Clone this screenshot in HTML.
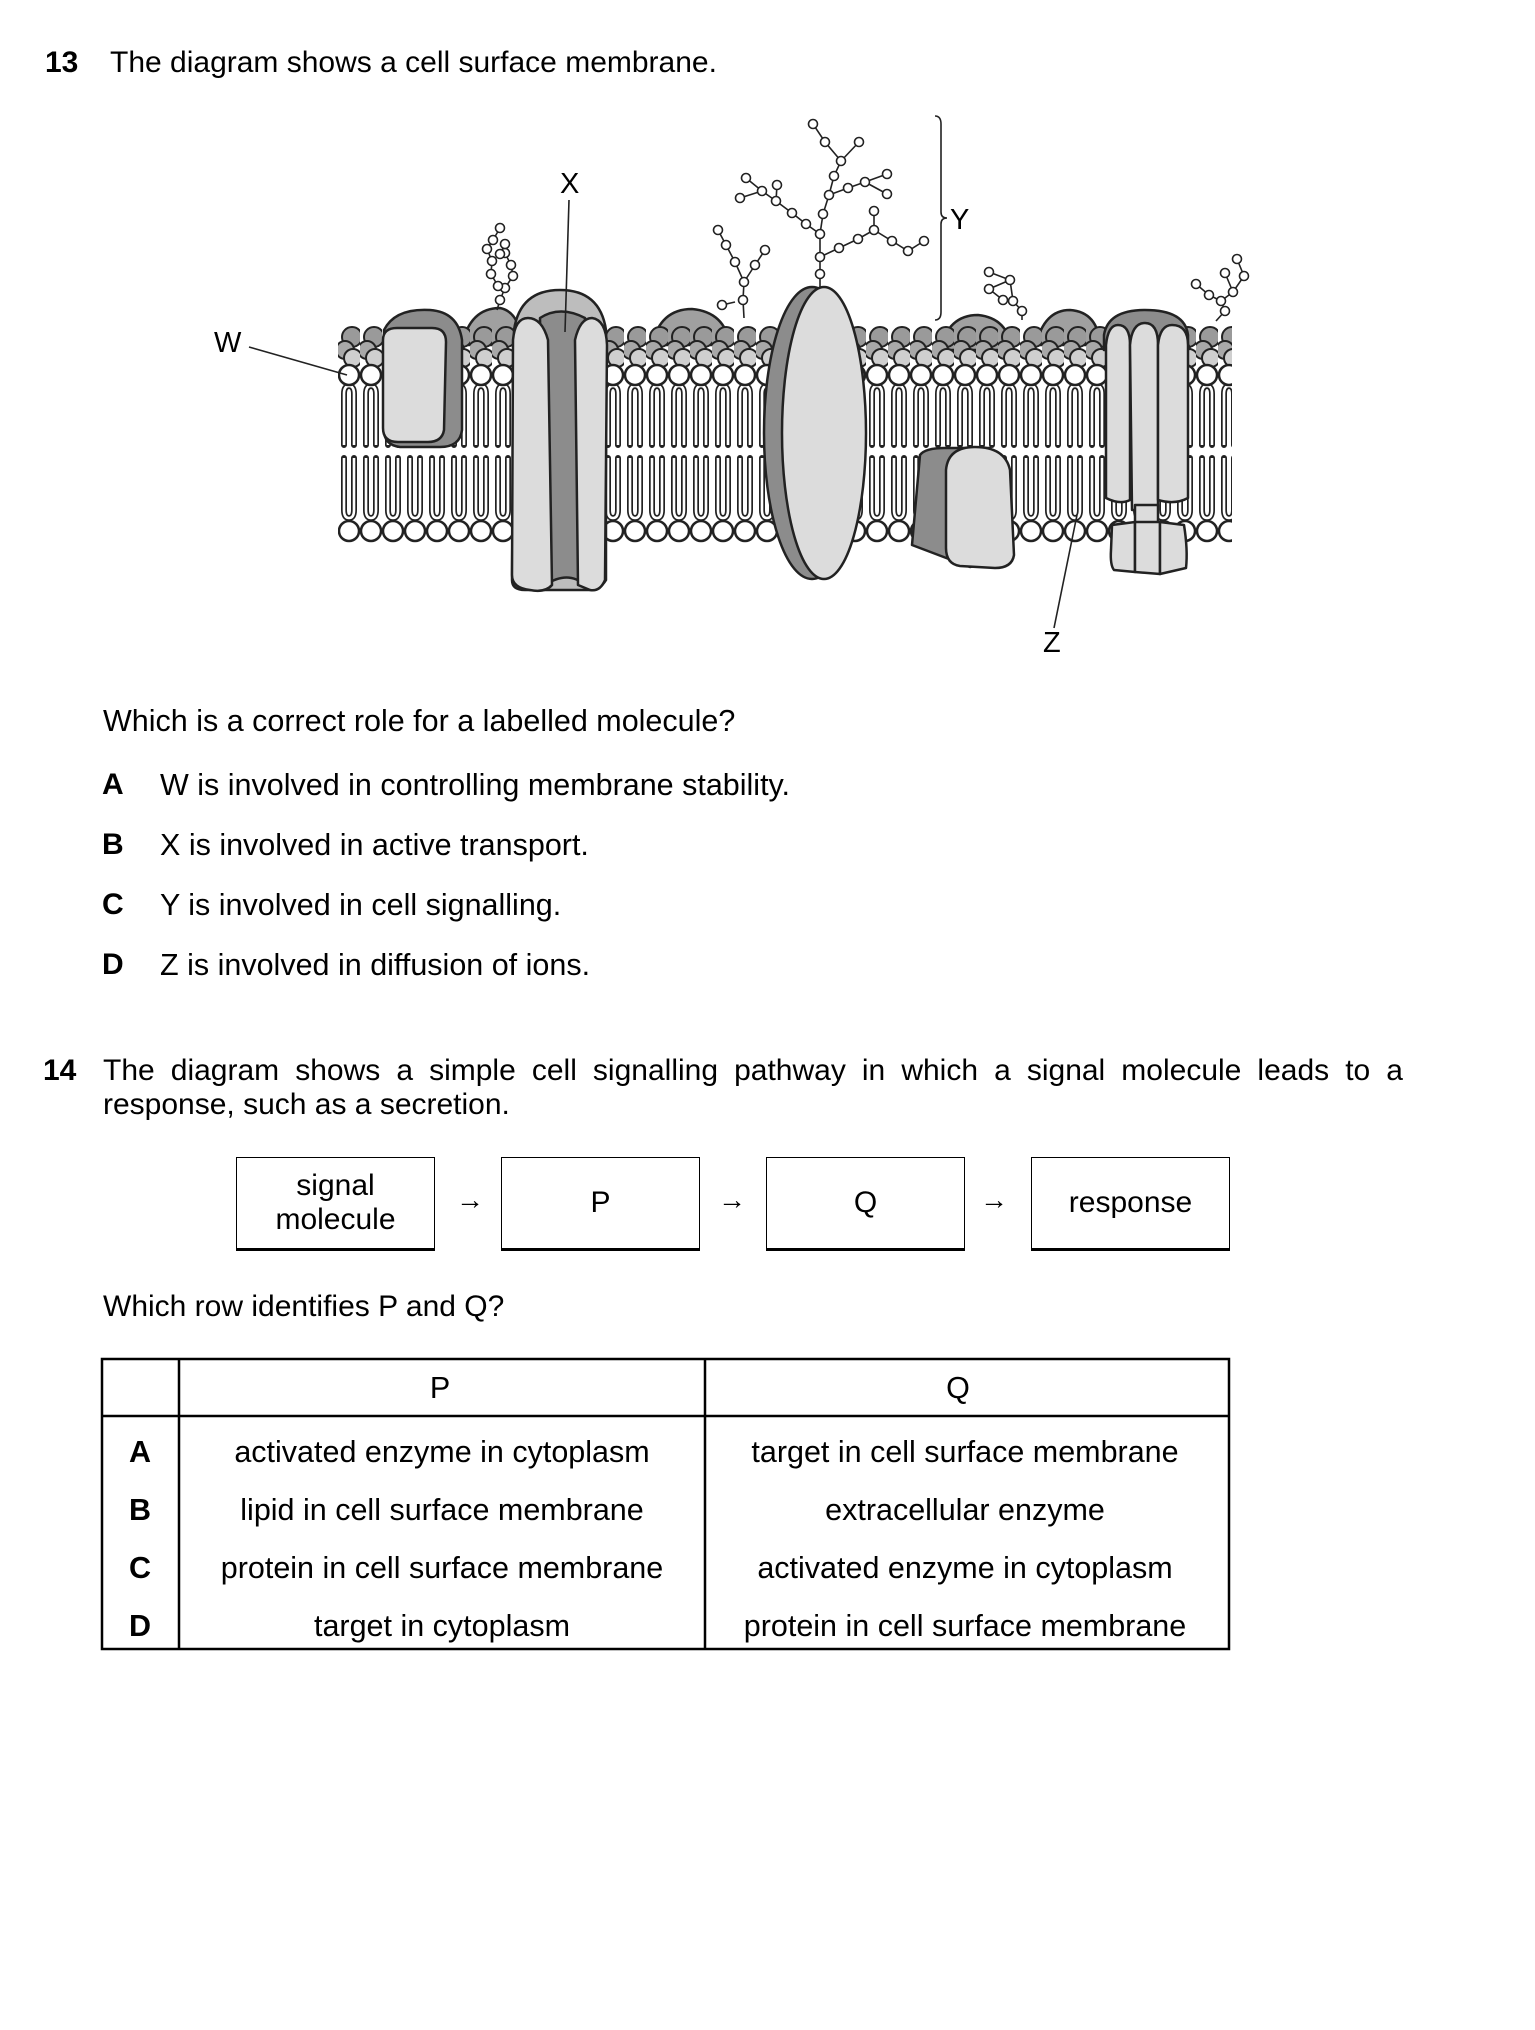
<!DOCTYPE html>
<html><head><meta charset="utf-8"><style>
html,body{margin:0;padding:0;background:#fff;}
body{width:1535px;height:2030px;position:relative;overflow:hidden;font-family:"Liberation Sans",Arial,sans-serif;color:#000;}
.t{position:absolute;font-size:30px;white-space:nowrap;line-height:1;}
.b{font-weight:bold;}
.box{position:absolute;top:1157px;height:94px;width:199px;border:1.5px solid #000;border-bottom-width:3px;box-sizing:border-box;display:flex;align-items:center;justify-content:center;text-align:center;font-size:30px;line-height:34px;}
.arr{position:absolute;top:1184px;font-size:28px;}
</style></head><body>

<div class="t" style="left:45px;top:48px;"><span class="b">13</span></div>
<div class="t" style="left:110px;top:48px;">The diagram shows a cell surface membrane.</div>

<svg style="position:absolute;left:0;top:0" width="1535" height="700" viewBox="0 0 1535 700">
<defs>
<pattern id="lip" patternUnits="userSpaceOnUse" x="338" y="0" width="22" height="700">
  <circle cx="14" cy="337" r="10" fill="#9a9a9a" stroke="#222" stroke-width="2"/>
  <circle cx="7" cy="350" r="9" fill="#a8a8a8" stroke="#222" stroke-width="2"/>
  <circle cx="15" cy="358" r="9" fill="#cfcfcf" stroke="#222" stroke-width="2"/>
  <path d="M6 445 L6 394 Q6 386 11 386 Q16 386 16 394 L16 445" fill="none" stroke="#222" stroke-width="6" stroke-linejoin="round" stroke-linecap="round"/>
  <path d="M6 445 L6 394 Q6 386 11 386 Q16 386 16 394 L16 445" fill="none" stroke="#fff" stroke-width="2.6"/>
  <path d="M6 458 L6 510 Q6 518 11 518 Q16 518 16 510 L16 458" fill="none" stroke="#222" stroke-width="6" stroke-linejoin="round" stroke-linecap="round"/>
  <path d="M6 458 L6 510 Q6 518 11 518 Q16 518 16 510 L16 458" fill="none" stroke="#fff" stroke-width="2.6"/>
  <circle cx="11" cy="375" r="10" fill="#fff" stroke="#222" stroke-width="2.5"/>
  <circle cx="11" cy="531" r="10" fill="#fff" stroke="#222" stroke-width="2.5"/>
</pattern>
</defs>
<g stroke="#222" stroke-width="2.5">
<path d="M462 345 Q470 308 500 308 Q520 312 522 345 Z" fill="#a0a0a0"/>
<path d="M652 345 Q660 309 692 309 Q725 312 730 345 Z" fill="#a0a0a0"/>
<path d="M940 350 Q948 315 978 315 Q1008 318 1012 350 Z" fill="#a0a0a0"/>
<path d="M1036 345 Q1044 310 1070 310 Q1098 312 1100 345 Z" fill="#a0a0a0"/>
</g>
<rect x="338" y="320" width="894" height="230" fill="url(#lip)"/>
<g stroke="#222" stroke-width="2.5" stroke-linejoin="round">
<path d="M384 330 Q395 308 430 310 Q458 312 462 340 L462 430 Q460 447 440 447 L400 447 Q384 445 384 430 Z" fill="#8c8c8c"/>
<path d="M383 340 Q383 328 397 328 L432 328 Q446 328 446 342 L444 430 Q442 442 428 442 L398 442 Q383 442 383 428 Z" fill="#dcdcdc"/>
<path d="M514 330 Q520 290 560 290 Q600 290 606 330 L606 580 Q600 590 590 590 L525 590 Q512 590 512 580 Z" fill="#bdbdbd"/>
<path d="M540 318 Q560 305 585 318 L585 585 Q568 570 545 585 Z" fill="#8c8c8c"/>
<path d="M513 340 Q515 318 528 318 Q542 318 548 340 L552 585 Q545 593 530 590 Q512 588 512 575 Z" fill="#dcdcdc"/>
<path d="M575 340 Q580 318 592 318 Q606 320 607 345 L605 580 Q600 592 590 590 L578 585 Z" fill="#dcdcdc"/>
<ellipse cx="812" cy="433" rx="48" ry="146" fill="#8c8c8c"/>
<ellipse cx="824" cy="433" rx="42" ry="146" fill="#dcdcdc"/>
<path d="M912 545 L920 455 Q925 448 945 448 L990 448 L995 560 L970 567 Z" fill="#8c8c8c"/>
<path d="M946 470 Q948 447 975 447 Q1005 447 1010 470 L1014 555 Q1012 568 995 568 L960 566 Q946 564 946 548 Z" fill="#dcdcdc"/>
<path d="M1104 335 Q1108 310 1145 310 Q1185 310 1188 335 L1188 350 L1104 350 Z" fill="#8c8c8c"/>
<path d="M1106 345 Q1108 325 1118 325 Q1130 325 1130 345 L1130 500 Q1120 505 1106 498 Z" fill="#dcdcdc"/>
<path d="M1130 345 Q1132 323 1145 323 Q1158 323 1158 345 L1158 510 L1132 510 Z" fill="#dcdcdc"/>
<path d="M1158 345 Q1160 325 1172 325 Q1188 325 1188 345 L1188 498 Q1175 505 1158 500 Z" fill="#dcdcdc"/>
<rect x="1135" y="505" width="23" height="22" fill="#dcdcdc"/>
<path d="M1112 525 L1135 522 L1135 572 L1114 570 Q1110 565 1111 550 Z" fill="#dcdcdc"/>
<path d="M1135 522 L1160 522 L1160 574 L1135 572 Z" fill="#dcdcdc"/>
<path d="M1160 522 L1184 525 Q1188 550 1186 568 L1160 574 Z" fill="#dcdcdc"/>
</g>
<g fill="none" stroke="#222" stroke-width="1.6">
<polyline points="497,310 500,300 505,288 498,286 491,274 492,261 487,249 493,240 500,228"/>
<polyline points="505,288 513,276 511,265 505,253 505,244 500,254"/>
<polyline points="744,318 743,300 744,282 735,262 726,245 718,230"/>
<polyline points="744,282 755,265 765,250"/>
<polyline points="735,302 722,305"/>
<polyline points="820,287 820,274 820,257 820,234 823,214 829,195 834,176 841,161 825,142 813,124"/>
<polyline points="841,161 859,142"/>
<polyline points="820,234 806,224 792,213 776,201 762,191 746,178"/>
<polyline points="762,191 740,198"/><polyline points="776,201 777,185"/>
<polyline points="829,195 848,188 865,182 887,174"/><polyline points="865,182 887,194"/>
<polyline points="820,257 839,248 858,239 874,230 874,211"/>
<polyline points="874,230 892,241 908,251 924,241"/>
<polyline points="1022,320 1022,311 1013,301 1003,300 989,289 1010,280 989,272"/>
<polyline points="1010,280 1013,301"/>
<polyline points="1216,321 1225,311 1221,301 1209,295 1196,284"/>
<polyline points="1221,301 1233,292 1244,276 1237,259"/>
<polyline points="1233,292 1225,273"/>
</g>
<g fill="#fff" stroke="#222" stroke-width="1.6">
<circle cx="500" cy="300" r="4.5"/><circle cx="505" cy="288" r="4.5"/><circle cx="498" cy="286" r="4.5"/><circle cx="491" cy="274" r="4.5"/><circle cx="492" cy="261" r="4.5"/><circle cx="487" cy="249" r="4.5"/><circle cx="493" cy="240" r="4.5"/><circle cx="500" cy="228" r="4.5"/><circle cx="513" cy="276" r="4.5"/><circle cx="511" cy="265" r="4.5"/><circle cx="505" cy="253" r="4.5"/><circle cx="505" cy="244" r="4.5"/><circle cx="500" cy="254" r="4.5"/>
<circle cx="743" cy="300" r="4.5"/><circle cx="744" cy="282" r="4.5"/><circle cx="735" cy="262" r="4.5"/><circle cx="726" cy="245" r="4.5"/><circle cx="718" cy="230" r="4.5"/><circle cx="755" cy="265" r="4.5"/><circle cx="765" cy="250" r="4.5"/><circle cx="722" cy="305" r="4.5"/>
<circle cx="820" cy="274" r="4.5"/><circle cx="820" cy="257" r="4.5"/><circle cx="820" cy="234" r="4.5"/><circle cx="823" cy="214" r="4.5"/><circle cx="829" cy="195" r="4.5"/><circle cx="834" cy="176" r="4.5"/><circle cx="841" cy="161" r="4.5"/><circle cx="825" cy="142" r="4.5"/><circle cx="813" cy="124" r="4.5"/><circle cx="859" cy="142" r="4.5"/>
<circle cx="806" cy="224" r="4.5"/><circle cx="792" cy="213" r="4.5"/><circle cx="776" cy="201" r="4.5"/><circle cx="762" cy="191" r="4.5"/><circle cx="746" cy="178" r="4.5"/><circle cx="740" cy="198" r="4.5"/><circle cx="777" cy="185" r="4.5"/>
<circle cx="848" cy="188" r="4.5"/><circle cx="865" cy="182" r="4.5"/><circle cx="887" cy="174" r="4.5"/><circle cx="887" cy="194" r="4.5"/>
<circle cx="839" cy="248" r="4.5"/><circle cx="858" cy="239" r="4.5"/><circle cx="874" cy="230" r="4.5"/><circle cx="874" cy="211" r="4.5"/><circle cx="892" cy="241" r="4.5"/><circle cx="908" cy="251" r="4.5"/><circle cx="924" cy="241" r="4.5"/>
<circle cx="1022" cy="311" r="4.5"/><circle cx="1013" cy="301" r="4.5"/><circle cx="1003" cy="300" r="4.5"/><circle cx="989" cy="289" r="4.5"/><circle cx="1010" cy="280" r="4.5"/><circle cx="989" cy="272" r="4.5"/>
<circle cx="1225" cy="311" r="4.5"/><circle cx="1221" cy="301" r="4.5"/><circle cx="1209" cy="295" r="4.5"/><circle cx="1196" cy="284" r="4.5"/><circle cx="1233" cy="292" r="4.5"/><circle cx="1244" cy="276" r="4.5"/><circle cx="1237" cy="259" r="4.5"/><circle cx="1225" cy="273" r="4.5"/>
</g>
<g stroke="#222" stroke-width="1.6" fill="none">
<line x1="249" y1="347" x2="347" y2="375"/>
<line x1="569" y1="200" x2="565" y2="332"/>
<path d="M935 116 Q941 116 941 124 L941 212 Q941 218 947 218 Q941 218 941 224 L941 312 Q941 320 935 320"/>
<line x1="1077" y1="515" x2="1054" y2="628"/>
</g>
<g font-family="Liberation Sans, Arial, sans-serif" font-size="29" fill="#000">
<text x="214" y="352">W</text>
<text x="560" y="193">X</text>
<text x="950" y="229">Y</text>
<text x="1043" y="652">Z</text>
</g>
</svg>

<div class="t" style="left:103px;top:706px;font-size:30.5px;">Which is a correct role for a labelled molecule?</div>
<div class="t b" style="left:102px;top:770px;">A</div><div class="t" style="left:160px;top:770px;font-size:30.5px;">W is involved in controlling membrane stability.</div>
<div class="t b" style="left:102px;top:830px;">B</div><div class="t" style="left:160px;top:830px;font-size:30.5px;">X is involved in active transport.</div>
<div class="t b" style="left:102px;top:890px;">C</div><div class="t" style="left:160px;top:890px;font-size:30.5px;">Y is involved in cell signalling.</div>
<div class="t b" style="left:102px;top:950px;">D</div><div class="t" style="left:160px;top:950px;font-size:30.5px;">Z is involved in diffusion of ions.</div>

<div class="t b" style="left:43px;top:1056px;">14</div>
<div class="t" style="left:103px;top:1056px;width:1300px;text-align:justify;text-align-last:justify;white-space:normal;">The diagram shows a simple cell signalling pathway in which a signal molecule leads to a</div>
<div class="t" style="left:103px;top:1090px;">response, such as a secretion.</div>

<div class="box" style="left:236px;">signal<br>molecule</div>
<div class="arr" style="left:456px;">→</div>
<div class="box" style="left:501px;">P</div>
<div class="arr" style="left:718px;">→</div>
<div class="box" style="left:766px;">Q</div>
<div class="arr" style="left:980px;">→</div>
<div class="box" style="left:1031px;">response</div>

<div class="t" style="left:103px;top:1292px;">Which row identifies P and Q?</div>

<svg style="position:absolute;left:0;top:0" width="1535" height="2030" viewBox="0 0 1535 2030">
<g stroke="#000" stroke-width="2.5" fill="none">
<rect x="102" y="1359" width="1127" height="290"/>
<line x1="179" y1="1359" x2="179" y2="1649"/>
<line x1="705" y1="1359" x2="705" y2="1649"/>
<line x1="102" y1="1416" x2="1229" y2="1416"/>
</g>
<g font-family="Liberation Sans, Arial, sans-serif" font-size="30.5" fill="#000" text-anchor="middle">
<text x="440" y="1398">P</text><text x="958" y="1398">Q</text>
<text x="140" y="1462" font-weight="bold">A</text>
<text x="140" y="1520" font-weight="bold">B</text>
<text x="140" y="1578" font-weight="bold">C</text>
<text x="140" y="1636" font-weight="bold">D</text>
<text x="442" y="1462">activated enzyme in cytoplasm</text>
<text x="442" y="1520">lipid in cell surface membrane</text>
<text x="442" y="1578">protein in cell surface membrane</text>
<text x="442" y="1636">target in cytoplasm</text>
<text x="965" y="1462">target in cell surface membrane</text>
<text x="965" y="1520">extracellular enzyme</text>
<text x="965" y="1578">activated enzyme in cytoplasm</text>
<text x="965" y="1636">protein in cell surface membrane</text>
</g>
</svg>
</body></html>
